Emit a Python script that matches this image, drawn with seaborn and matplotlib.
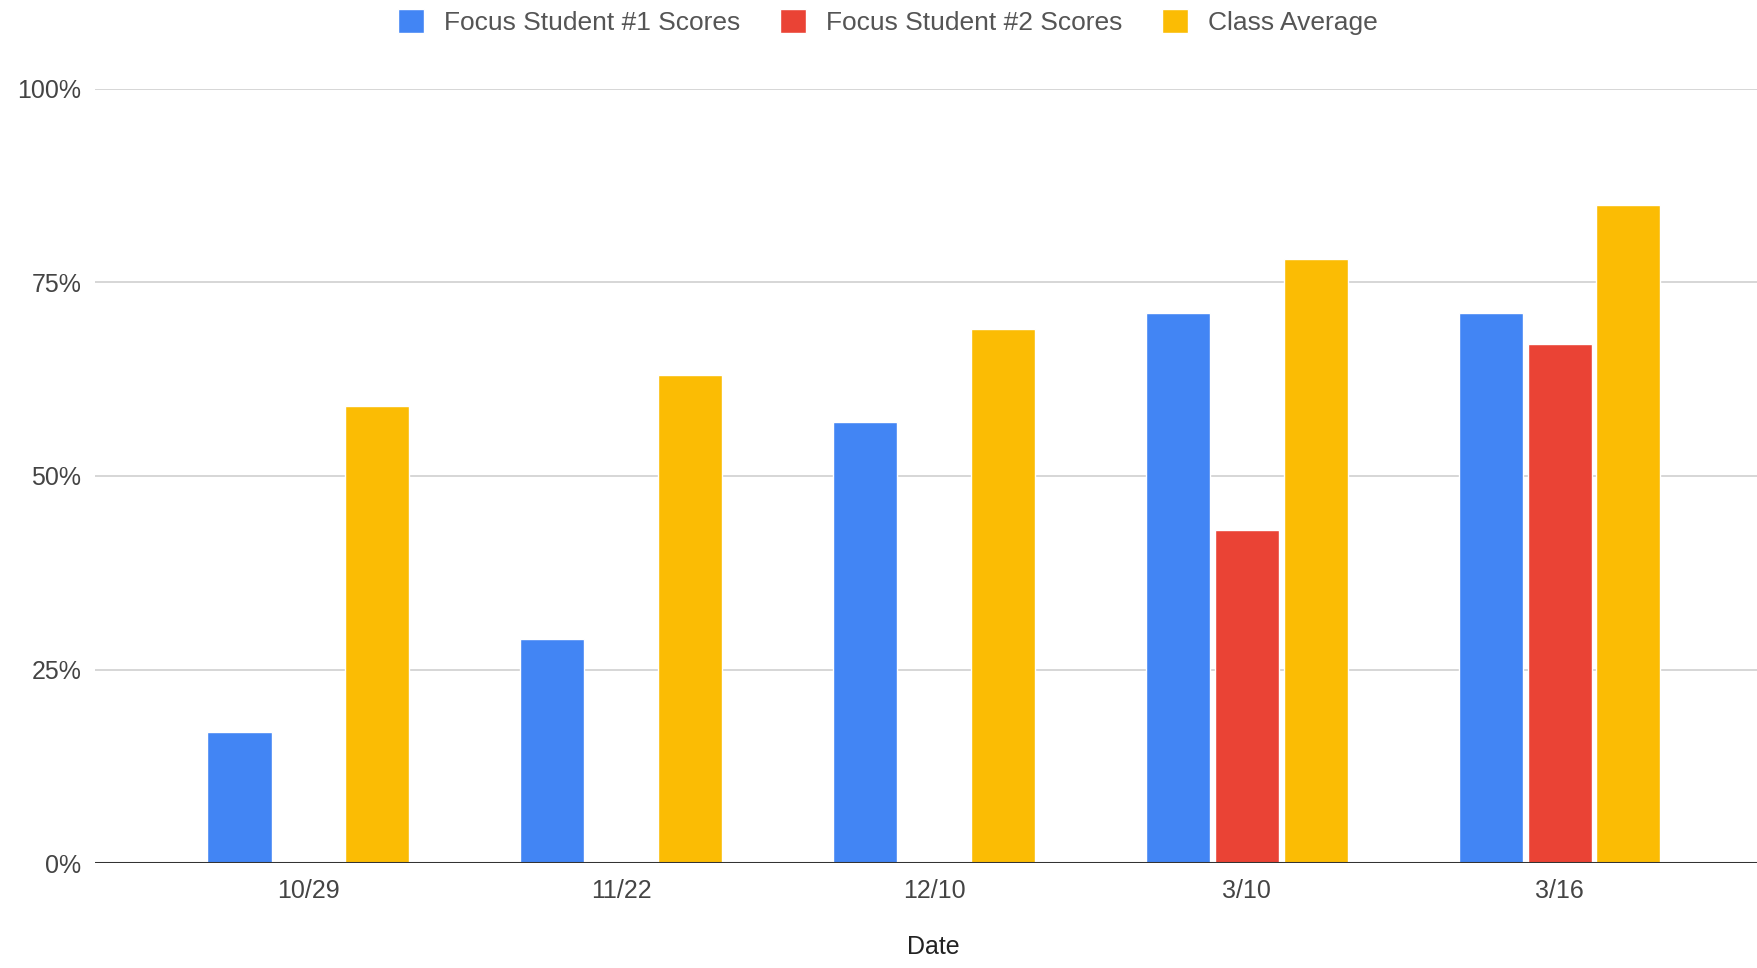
# ===========================
# Importación de Librerías
# ===========================
import numpy as np
import pandas as pd
import matplotlib
matplotlib.use("Agg")
import matplotlib.pyplot as plt
import seaborn as sns
from matplotlib.ticker import PercentFormatter

# ===========================
# Datos
# ===========================
dates = ["10/29", "11/22", "12/10", "3/10", "3/16"]
student1 = [0.17, 0.29, 0.57, 0.71, 0.71]
student2 = [np.nan, np.nan, np.nan, 0.43, 0.67]
class_avg = [0.59, 0.63, 0.69, 0.78, 0.85]
series_names = ["Focus Student #1 Scores", "Focus Student #2 Scores", "Class Average"]
y_ticks = [0, 0.25, 0.5, 0.75, 1.0]

colors = ["#4285F4", "#EA4335", "#FBBC04"]

# tabla larga para seaborn
df = pd.DataFrame({
    "Date": dates * 3,
    "Score": student1 + student2 + class_avg,
    "Series": [s for s in series_names for _ in dates],
})

# ===========================
# Gráfico
# ===========================
sns.set_theme(style="white")
plt.rcParams["font.family"] = ["Liberation Sans", "DejaVu Sans"]

fig = plt.figure(figsize=(17.58, 9.68), dpi=100)
ax = fig.add_axes([0.0542, 0.1081, 0.9458, 0.8004])

sns.barplot(data=df, x="Date", y="Score", hue="Series", order=dates,
            hue_order=series_names, palette=colors, width=0.66, gap=0.07,
            saturation=1, errorbar=None, ax=ax, zorder=3)

ax.set_ylim(0, 1.0)
ax.set_xlim(-0.681, 4.634)
ax.set_yticks(y_ticks)
ax.yaxis.set_major_formatter(PercentFormatter(1.0, decimals=0))
ax.grid(axis="y", color="#d0d0d0", linewidth=1.2, zorder=0)
ax.axhline(0, color="#333333", linewidth=2.2, zorder=4)

for side in ["top", "right", "left", "bottom"]:
    ax.spines[side].set_visible(False)

ax.tick_params(axis="both", length=0, labelsize=18, labelcolor="#444444")
ax.tick_params(axis="y", pad=10)
ax.tick_params(axis="x", pad=11)

ax.set_ylabel("")
ax.set_xlabel("Date", fontsize=18, color="#222222", va="center")
ax.xaxis.set_label_coords(0.504, -0.108)

handles, labels = ax.get_legend_handles_labels()
ax.legend(handles, labels, loc="center", bbox_to_anchor=(0.505, 0.977),
          bbox_transform=fig.transFigure, ncol=3, frameon=False,
          fontsize=19, handlelength=1.0, handleheight=1.0,
          handletextpad=0.75, columnspacing=1.5, labelcolor="#555555")

fig.savefig("out.png", dpi=100)
